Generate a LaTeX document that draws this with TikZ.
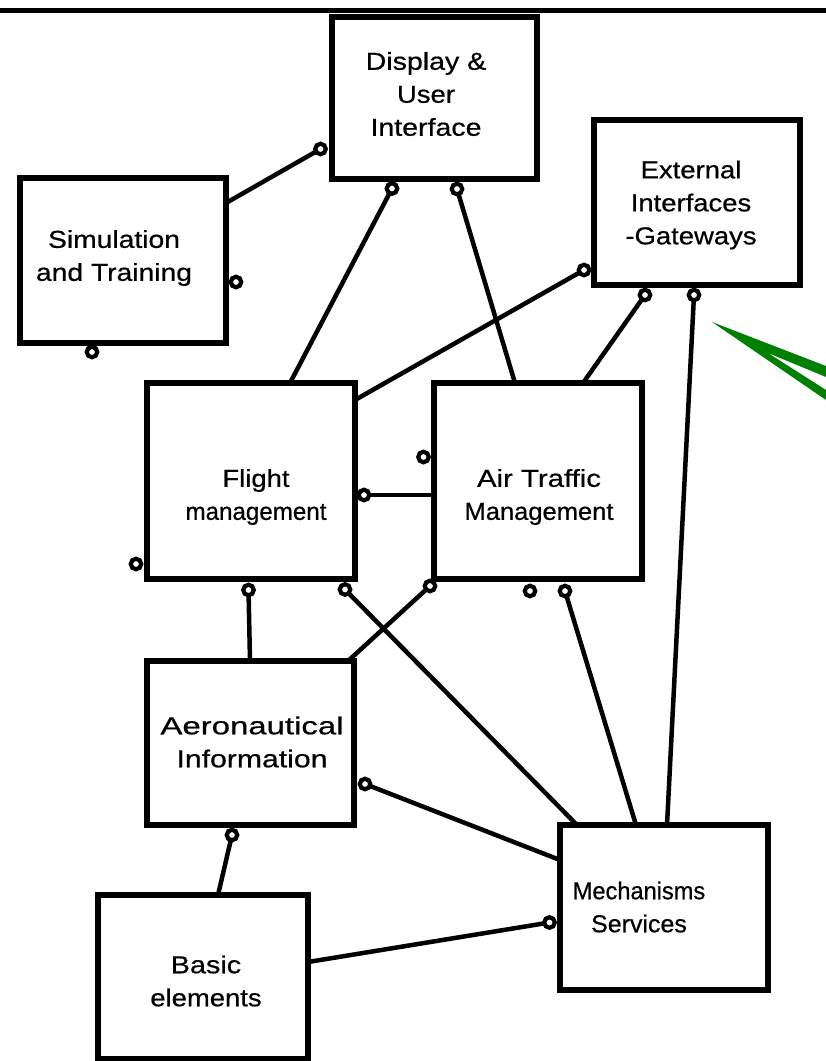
\documentclass[tikz,border=0pt]{standalone}
\usepackage{graphicx}
\usepackage{fontspec}
\newfontfamily\labelfont[FakeStretch=1.12,FakeBold=0.6]{Liberation Sans}
% horizontal squeeze/stretch of one caption line
\newcommand\hsq[2]{\scalebox{#1}[1]{#2}}
\begin{document}
\begin{tikzpicture}[x=1pt,y=-1pt,
  blk/.style={draw,line width=5.5pt,inner sep=0pt,fill=white},
  txt/.style={font=\labelfont\fontsize{24.5}{33}\selectfont,align=center,inner sep=0pt},
  link/.style={line width=4.5pt},
  port/.style={circle,draw,line width=4.2pt,fill=white,inner sep=0pt,minimum size=10.5pt},
  pointer/.style={fill=green!50!black,draw=none}]
\useasboundingbox (0,0) rectangle (826,1061);
\fill[white] (0,0) rectangle (826,1061);

% header rule
\coordinate (hl) at (0,10);
\coordinate (hr) at (826,10);
\draw[line width=5pt] (hl) -- (hr);

% blocks
\node[blk,minimum width=205pt,minimum height=162pt] (disp)   at (434.5,98)   {};
\node[blk,minimum width=206pt,minimum height=165pt] (ext)    at (697,202.5)  {};
\node[blk,minimum width=206pt,minimum height=165pt] (sim)    at (123,260.5)  {};
\node[blk,minimum width=208pt,minimum height=196pt] (flight) at (251,481)    {};
\node[blk,minimum width=208pt,minimum height=196pt] (atm)    at (538,481)    {};
\node[blk,minimum width=207pt,minimum height=164pt] (aero)   at (250.5,743)  {};
\node[blk,minimum width=208pt,minimum height=165pt] (mech)   at (664,907.5)  {};
\node[blk,minimum width=210pt,minimum height=164pt] (basic)  at (203,977)    {};

% block captions
\node[txt] (dispT)   at (426,94)  {\hsq{1.04}{Display \&}\\User\\\hsq{1.04}{Interface}};
\node[txt] (extT)    at (691,205) {External\\Interfaces\\-Gateways};
\node[txt] (simT)    at (114,258) {\hsq{1.03}{Simulation}\\\hsq{1.03}{and Training}};
\node[txt] (flightT) at (256,497) {Flight\\\hsq{0.88}{management}};
\node[txt] (atmT)    at (539,497) {\hsq{1.07}{Air Traffic}\\\hsq{0.93}{Management}};
\node[txt] (aeroT)   at (252,742) {\hsq{1.2}{Aeronautical}\\\hsq{1.1}{Information}};
\node[txt] (mechT)   at (639,907) {\hsq{0.86}{Mechanisms}\\\hsq{0.91}{Services}};
\node[txt] (basicT)  at (206,981) {\hsq{1.05}{Basic}\\elements};

% attachment points on block borders
\coordinate (simR)    at (226,203);
\coordinate (flTop)   at (290,383);
\coordinate (flTopR)  at (355,400);
\coordinate (atmTopL) at (515,383);
\coordinate (atmTopR) at (583,383);
\coordinate (atmL)    at (434,495);
\coordinate (aeroTop) at (250,661);
\coordinate (aeroTR)  at (348,661);
\coordinate (mechT1)  at (577,825);
\coordinate (mechT2)  at (636,825);
\coordinate (mechT3)  at (667,825);
\coordinate (mechL)   at (560,860);
\coordinate (basicTop) at (218,895);
\coordinate (basicR)  at (308,962);

% ports
\coordinate (pDispL)  at (320.5,149);
\coordinate (pDispB1) at (392,188.5);
\coordinate (pDispB2) at (457,189);
\coordinate (pSimR)   at (236,282);
\coordinate (pSimB)   at (92,352);
\coordinate (pExtL)   at (584,270);
\coordinate (pExtB1)  at (645,295);
\coordinate (pExtB2)  at (694,295);
\coordinate (pFlL)    at (136,564);
\coordinate (pFlR)    at (364,495);
\coordinate (pFlB1)   at (248.5,590);
\coordinate (pFlB2)   at (345,589.5);
\coordinate (pAtmTL)  at (423.5,457);
\coordinate (pAtmB1)  at (430,586);
\coordinate (pAtmB2)  at (530,591);
\coordinate (pAtmB3)  at (565,591);
\coordinate (pAeroR)  at (365,784);
\coordinate (pAeroB)  at (232,835);
\coordinate (pMechL)  at (549.5,922.5);

% connectors
\draw[link] (simR)    -- (pDispL);
\draw[link] (pDispB1) -- (flTop);
\draw[link] (pDispB2) -- (atmTopL);
\draw[link] (pExtL)   -- (flTopR);
\draw[link] (pExtB1)  -- (atmTopR);
\draw[link] (pExtB2)  -- (mechT3);
\draw[link] (pFlR)    -- (atmL);
\draw[link] (pFlB1)   -- (aeroTop);
\draw[link] (pFlB2)   -- (mechT1);
\draw[link] (pAtmB1)  -- (aeroTR);
\draw[link] (pAtmB3)  -- (mechT2);
\draw[link] (pAeroR)  -- (mechL);
\draw[link] (pAeroB)  -- (basicTop);
\draw[link] (basicR)  -- (pMechL);

% port markers
\foreach \p in {pDispL,pDispB1,pDispB2,pSimR,pSimB,pExtL,pExtB1,pExtB2,
                pFlL,pFlR,pFlB1,pFlB2,pAtmTL,pAtmB1,pAtmB2,pAtmB3,
                pAeroR,pAeroB,pMechL}
  \node[port] (m-\p) at (\p) {};

% green pointer
\fill[pointer] (712,322) -- (826,366) -- (826,377) -- (768,353)
  -- (826,390) -- (826,400) -- cycle;
\end{tikzpicture}
\end{document}
